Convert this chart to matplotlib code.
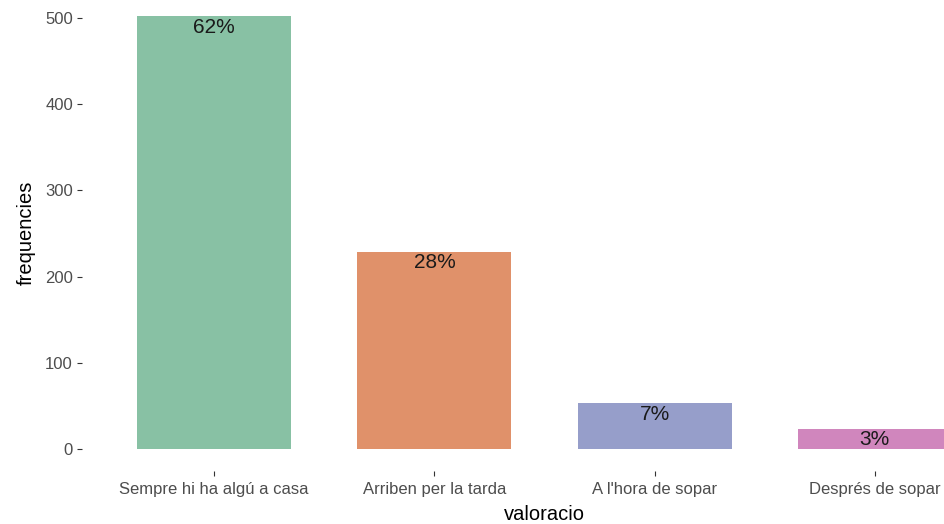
import numpy as np
import matplotlib
matplotlib.use("Agg")
import matplotlib.pyplot as plt

# dades
categories = ['Sempre hi ha algú a casa', 'Arriben per la tarda',
              "A l'hora de sopar", 'Després de sopar']
frequencies = [502, 229, 53, 23]
colors = ['#88C1A4', '#E0916A', '#969ECA', '#D086BD']

plt.rcParams['font.family'] = ['Liberation Sans', 'DejaVu Sans']

W, H = 944, 524
fig = plt.figure(figsize=(W / 100, H / 100), dpi=100)

# panel placed in pixels (the panel runs off the right edge in the original)
left, right = 82, 1007
bottom, top = 470.6, -5.3
ax = fig.add_axes([left / W, (H - bottom) / H, (right - left) / W, (bottom - top) / H])

x = np.arange(1, len(categories) + 1)
ax.bar(x, frequencies, width=0.7, color=colors, linewidth=0)

total = sum(frequencies)
for xi, f in zip(x, frequencies):
    pct = f'{round(100 * f / total)}%'
    ax.text(xi, f - 1.5, pct, ha='center', va='top', fontsize=15, color='#1A1A1A')

ax.set_xlim(0.4, 4.6)
ax.set_ylim(-25.1, 527.1)
ax.set_xticks(x)
ax.set_xticklabels(categories)
ax.set_yticks([0, 100, 200, 300, 400, 500])

for s in ax.spines.values():
    s.set_visible(False)
ax.tick_params(axis='both', colors='#333333', labelcolor='#4D4D4D',
               labelsize=12, length=3.5, width=0.8)
ax.tick_params(axis='x', pad=5)
ax.tick_params(axis='y', pad=3)

ax.set_xlabel('valoracio', fontsize=14.5, va='center')
ax.set_ylabel('frequencies', fontsize=14.5, va='center')
ax.xaxis.set_label_coords((544 - left) / (right - left), -(514 - bottom) / (bottom - top))
ax.yaxis.set_label_coords(-(left - 26) / (right - left), 0.5)

fig.savefig('out.png', dpi=100, facecolor='white')
